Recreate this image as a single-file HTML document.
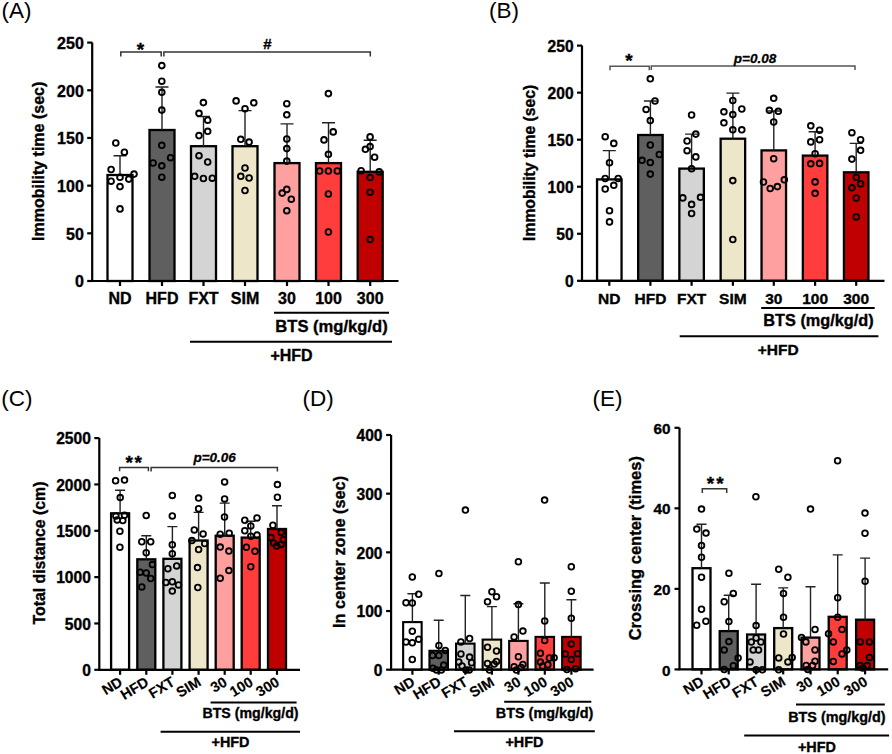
<!DOCTYPE html>
<html><head><meta charset="utf-8"><style>
html,body{margin:0;padding:0;background:#fff;width:892px;height:754px;overflow:hidden}
svg{display:block}
text{font-family:"Liberation Sans",sans-serif;fill:#000}
.b{font-weight:bold;stroke:#000;stroke-width:0.35px}
.bi{font-weight:bold;font-style:italic;stroke:#000;stroke-width:0.3px}
.r{font-weight:normal}
</style></head><body>
<svg width="892" height="754" viewBox="0 0 892 754">
<rect width="892" height="754" fill="#fff"/>
<rect x="107.5" y="175" width="25" height="106" fill="#ffffff" stroke="#000" stroke-width="2.3"/>
<rect x="149.5" y="130" width="25" height="151" fill="#5f5f5f" stroke="#000" stroke-width="2.3"/>
<rect x="191" y="146.2" width="25" height="134.8" fill="#d4d4d4" stroke="#000" stroke-width="2.3"/>
<rect x="232.5" y="146.2" width="25" height="134.8" fill="#ede6c9" stroke="#000" stroke-width="2.3"/>
<rect x="274.5" y="163.1" width="25" height="117.9" fill="#ffa0a0" stroke="#000" stroke-width="2.3"/>
<rect x="316" y="163.1" width="25" height="117.9" fill="#ff3d3d" stroke="#000" stroke-width="2.3"/>
<rect x="357.7" y="171.8" width="25" height="109.2" fill="#c00000" stroke="#000" stroke-width="2.3"/>
<path d="M120 175V155.7M113.5 155.7H126.5" stroke="#222" stroke-width="1.4" fill="none"/>
<path d="M162 130V87M155.5 87H168.5" stroke="#222" stroke-width="1.4" fill="none"/>
<path d="M203.5 146.2V116.5M197 116.5H210" stroke="#222" stroke-width="1.4" fill="none"/>
<path d="M245 146.2V110.6M238.5 110.6H251.5" stroke="#222" stroke-width="1.4" fill="none"/>
<path d="M287 163.1V123.9M280.5 123.9H293.5" stroke="#222" stroke-width="1.4" fill="none"/>
<path d="M328.5 163.1V122.8M322 122.8H335" stroke="#222" stroke-width="1.4" fill="none"/>
<path d="M370.2 171.8V140.3M363.7 140.3H376.7" stroke="#222" stroke-width="1.4" fill="none"/>
<circle cx="115.8" cy="143" r="2.85" fill="none" stroke="#000" stroke-width="1.9"/>
<circle cx="124.4" cy="152.2" r="2.85" fill="none" stroke="#000" stroke-width="1.9"/>
<circle cx="111.1" cy="169.5" r="2.85" fill="none" stroke="#000" stroke-width="1.9"/>
<circle cx="134" cy="174.1" r="2.85" fill="none" stroke="#000" stroke-width="1.9"/>
<circle cx="120" cy="177.3" r="2.85" fill="none" stroke="#000" stroke-width="1.9"/>
<circle cx="128.8" cy="179.1" r="2.85" fill="none" stroke="#000" stroke-width="1.9"/>
<circle cx="111.1" cy="181.2" r="2.85" fill="none" stroke="#000" stroke-width="1.9"/>
<circle cx="120" cy="186.6" r="2.85" fill="none" stroke="#000" stroke-width="1.9"/>
<circle cx="120" cy="208.9" r="2.85" fill="none" stroke="#000" stroke-width="1.9"/>
<circle cx="161.8" cy="65.6" r="2.85" fill="none" stroke="#000" stroke-width="1.9"/>
<circle cx="161.8" cy="81.2" r="2.85" fill="none" stroke="#000" stroke-width="1.9"/>
<circle cx="161.8" cy="92.3" r="2.85" fill="none" stroke="#000" stroke-width="1.9"/>
<circle cx="161.8" cy="110.1" r="2.85" fill="none" stroke="#000" stroke-width="1.9"/>
<circle cx="161.8" cy="145.3" r="2.85" fill="none" stroke="#000" stroke-width="1.9"/>
<circle cx="170.6" cy="157.7" r="2.85" fill="none" stroke="#000" stroke-width="1.9"/>
<circle cx="153.1" cy="163" r="2.85" fill="none" stroke="#000" stroke-width="1.9"/>
<circle cx="161.8" cy="165.8" r="2.85" fill="none" stroke="#000" stroke-width="1.9"/>
<circle cx="161.8" cy="177.2" r="2.85" fill="none" stroke="#000" stroke-width="1.9"/>
<circle cx="203.4" cy="102.6" r="2.85" fill="none" stroke="#000" stroke-width="1.9"/>
<circle cx="199" cy="113.3" r="2.85" fill="none" stroke="#000" stroke-width="1.9"/>
<circle cx="207.7" cy="120.2" r="2.85" fill="none" stroke="#000" stroke-width="1.9"/>
<circle cx="207.7" cy="131.3" r="2.85" fill="none" stroke="#000" stroke-width="1.9"/>
<circle cx="199" cy="135.6" r="2.85" fill="none" stroke="#000" stroke-width="1.9"/>
<circle cx="199" cy="155.7" r="2.85" fill="none" stroke="#000" stroke-width="1.9"/>
<circle cx="207.7" cy="162" r="2.85" fill="none" stroke="#000" stroke-width="1.9"/>
<circle cx="194.7" cy="176.3" r="2.85" fill="none" stroke="#000" stroke-width="1.9"/>
<circle cx="203.4" cy="178.5" r="2.85" fill="none" stroke="#000" stroke-width="1.9"/>
<circle cx="212.3" cy="178.2" r="2.85" fill="none" stroke="#000" stroke-width="1.9"/>
<circle cx="236.1" cy="100.9" r="2.85" fill="none" stroke="#000" stroke-width="1.9"/>
<circle cx="253.8" cy="102.8" r="2.85" fill="none" stroke="#000" stroke-width="1.9"/>
<circle cx="245" cy="108.7" r="2.85" fill="none" stroke="#000" stroke-width="1.9"/>
<circle cx="240.8" cy="139.3" r="2.85" fill="none" stroke="#000" stroke-width="1.9"/>
<circle cx="249.1" cy="142.1" r="2.85" fill="none" stroke="#000" stroke-width="1.9"/>
<circle cx="245" cy="168" r="2.85" fill="none" stroke="#000" stroke-width="1.9"/>
<circle cx="240.8" cy="176.3" r="2.85" fill="none" stroke="#000" stroke-width="1.9"/>
<circle cx="249.1" cy="178" r="2.85" fill="none" stroke="#000" stroke-width="1.9"/>
<circle cx="245" cy="190.5" r="2.85" fill="none" stroke="#000" stroke-width="1.9"/>
<circle cx="286.8" cy="103.7" r="2.85" fill="none" stroke="#000" stroke-width="1.9"/>
<circle cx="286.8" cy="114.8" r="2.85" fill="none" stroke="#000" stroke-width="1.9"/>
<circle cx="286.8" cy="139" r="2.85" fill="none" stroke="#000" stroke-width="1.9"/>
<circle cx="286.8" cy="148.6" r="2.85" fill="none" stroke="#000" stroke-width="1.9"/>
<circle cx="286.8" cy="161.1" r="2.85" fill="none" stroke="#000" stroke-width="1.9"/>
<circle cx="286.8" cy="189.4" r="2.85" fill="none" stroke="#000" stroke-width="1.9"/>
<circle cx="282.2" cy="193.1" r="2.85" fill="none" stroke="#000" stroke-width="1.9"/>
<circle cx="291.3" cy="199.2" r="2.85" fill="none" stroke="#000" stroke-width="1.9"/>
<circle cx="286.8" cy="210.7" r="2.85" fill="none" stroke="#000" stroke-width="1.9"/>
<circle cx="328.4" cy="93.6" r="2.85" fill="none" stroke="#000" stroke-width="1.9"/>
<circle cx="333.2" cy="131.9" r="2.85" fill="none" stroke="#000" stroke-width="1.9"/>
<circle cx="324" cy="139.9" r="2.85" fill="none" stroke="#000" stroke-width="1.9"/>
<circle cx="328.4" cy="154.3" r="2.85" fill="none" stroke="#000" stroke-width="1.9"/>
<circle cx="319.7" cy="171" r="2.85" fill="none" stroke="#000" stroke-width="1.9"/>
<circle cx="328.4" cy="171" r="2.85" fill="none" stroke="#000" stroke-width="1.9"/>
<circle cx="337.3" cy="171" r="2.85" fill="none" stroke="#000" stroke-width="1.9"/>
<circle cx="328.4" cy="194" r="2.85" fill="none" stroke="#000" stroke-width="1.9"/>
<circle cx="328.4" cy="232" r="2.85" fill="none" stroke="#000" stroke-width="1.9"/>
<circle cx="370.1" cy="136.9" r="2.85" fill="none" stroke="#000" stroke-width="1.9"/>
<circle cx="370.1" cy="146.6" r="2.85" fill="none" stroke="#000" stroke-width="1.9"/>
<circle cx="365.4" cy="149.3" r="2.85" fill="none" stroke="#000" stroke-width="1.9"/>
<circle cx="374.6" cy="157.2" r="2.85" fill="none" stroke="#000" stroke-width="1.9"/>
<circle cx="361.1" cy="170.7" r="2.85" fill="none" stroke="#000" stroke-width="1.9"/>
<circle cx="379.2" cy="171.9" r="2.85" fill="none" stroke="#000" stroke-width="1.9"/>
<circle cx="370.1" cy="177.5" r="2.85" fill="none" stroke="#000" stroke-width="1.9"/>
<circle cx="370.1" cy="192.2" r="2.85" fill="none" stroke="#000" stroke-width="1.9"/>
<circle cx="370.1" cy="239.5" r="2.85" fill="none" stroke="#000" stroke-width="1.9"/>
<path d="M92.2 42.6V281H398.5" stroke="#000" stroke-width="2.2" fill="none"/>
<path d="M87.2 42.6H92.2" stroke="#000" stroke-width="2.2"/>
<text x="83.8" y="49" class="b" font-size="16" text-anchor="end">250</text>
<path d="M87.2 90.28H92.2" stroke="#000" stroke-width="2.2"/>
<text x="83.8" y="96.68" class="b" font-size="16" text-anchor="end">200</text>
<path d="M87.2 137.96H92.2" stroke="#000" stroke-width="2.2"/>
<text x="83.8" y="144.36" class="b" font-size="16" text-anchor="end">150</text>
<path d="M87.2 185.64H92.2" stroke="#000" stroke-width="2.2"/>
<text x="83.8" y="192.04" class="b" font-size="16" text-anchor="end">100</text>
<path d="M87.2 233.32H92.2" stroke="#000" stroke-width="2.2"/>
<text x="83.8" y="239.72" class="b" font-size="16" text-anchor="end">50</text>
<path d="M87.2 281H92.2" stroke="#000" stroke-width="2.2"/>
<text x="83.8" y="287.4" class="b" font-size="16" text-anchor="end">0</text>
<path d="M120 281V286" stroke="#000" stroke-width="2.2"/>
<path d="M162 281V286" stroke="#000" stroke-width="2.2"/>
<path d="M203.5 281V286" stroke="#000" stroke-width="2.2"/>
<path d="M245 281V286" stroke="#000" stroke-width="2.2"/>
<path d="M287 281V286" stroke="#000" stroke-width="2.2"/>
<path d="M328.5 281V286" stroke="#000" stroke-width="2.2"/>
<path d="M370.2 281V286" stroke="#000" stroke-width="2.2"/>
<text x="120" y="303.6" class="b" font-size="16" text-anchor="middle">ND</text>
<text x="162" y="303.6" class="b" font-size="16" text-anchor="middle">HFD</text>
<text x="203.5" y="303.6" class="b" font-size="16" text-anchor="middle">FXT</text>
<text x="245" y="303.6" class="b" font-size="16" text-anchor="middle">SIM</text>
<text x="287" y="303.6" class="b" font-size="16" text-anchor="middle">30</text>
<text x="328.5" y="303.6" class="b" font-size="16" text-anchor="middle">100</text>
<text x="370.2" y="303.6" class="b" font-size="16" text-anchor="middle">300</text>
<path d="M274 312.8H389" stroke="#000" stroke-width="2"/>
<text x="331.5" y="331.6" class="b" font-size="16.6" text-anchor="middle">BTS (mg/kg/d)</text>
<path d="M190 341.8H392" stroke="#000" stroke-width="2"/>
<text x="291.5" y="360.6" class="b" font-size="16" text-anchor="middle">+HFD</text>
<text class="b" font-size="16" text-anchor="middle" transform="translate(43.6 161.3) rotate(-90)">Immobility time (sec)</text>
<text x="1.5" y="18.4" class="r" font-size="22.5">(A)</text>
<path d="M120.8 56.6V52H161.2V56.6" stroke="#333" stroke-width="1.5" fill="none"/>
<path d="M163.9 56.6V52.1H370.3V56.6" stroke="#333" stroke-width="1.5" fill="none"/>
<text x="140.5" y="56.2" class="b" font-size="19" text-anchor="middle">*</text>
<text x="267.3" y="49.1" class="b" font-size="15" text-anchor="middle">#</text>
<rect x="597.05" y="179.4" width="24.5" height="101.4" fill="#ffffff" stroke="#000" stroke-width="2.3"/>
<rect x="638.15" y="135" width="24.5" height="145.8" fill="#5f5f5f" stroke="#000" stroke-width="2.3"/>
<rect x="679.35" y="168.6" width="24.5" height="112.2" fill="#d4d4d4" stroke="#000" stroke-width="2.3"/>
<rect x="720.65" y="138.7" width="24.5" height="142.1" fill="#ede6c9" stroke="#000" stroke-width="2.3"/>
<rect x="761.55" y="150.4" width="24.5" height="130.4" fill="#ffa0a0" stroke="#000" stroke-width="2.3"/>
<rect x="802.85" y="155.6" width="24.5" height="125.2" fill="#ff3d3d" stroke="#000" stroke-width="2.3"/>
<rect x="843.95" y="172.3" width="24.5" height="108.5" fill="#c00000" stroke="#000" stroke-width="2.3"/>
<path d="M609.3 179.4V150.6M602.8 150.6H615.8" stroke="#222" stroke-width="1.4" fill="none"/>
<path d="M650.4 135V101M643.9 101H656.9" stroke="#222" stroke-width="1.4" fill="none"/>
<path d="M691.6 168.6V134.1M685.1 134.1H698.1" stroke="#222" stroke-width="1.4" fill="none"/>
<path d="M732.9 138.7V93.1M726.4 93.1H739.4" stroke="#222" stroke-width="1.4" fill="none"/>
<path d="M773.8 150.4V111M767.3 111H780.3" stroke="#222" stroke-width="1.4" fill="none"/>
<path d="M815.1 155.6V131.7M808.6 131.7H821.6" stroke="#222" stroke-width="1.4" fill="none"/>
<path d="M856.2 172.3V143.4M849.7 143.4H862.7" stroke="#222" stroke-width="1.4" fill="none"/>
<circle cx="605.2" cy="136.7" r="2.85" fill="none" stroke="#000" stroke-width="1.85"/>
<circle cx="613.8" cy="143.4" r="2.85" fill="none" stroke="#000" stroke-width="1.85"/>
<circle cx="609.5" cy="162.7" r="2.85" fill="none" stroke="#000" stroke-width="1.85"/>
<circle cx="605.2" cy="178.5" r="2.85" fill="none" stroke="#000" stroke-width="1.85"/>
<circle cx="618.2" cy="178.5" r="2.85" fill="none" stroke="#000" stroke-width="1.85"/>
<circle cx="613.8" cy="185.3" r="2.85" fill="none" stroke="#000" stroke-width="1.85"/>
<circle cx="605.2" cy="189" r="2.85" fill="none" stroke="#000" stroke-width="1.85"/>
<circle cx="609.5" cy="210.7" r="2.85" fill="none" stroke="#000" stroke-width="1.85"/>
<circle cx="609.5" cy="221.9" r="2.85" fill="none" stroke="#000" stroke-width="1.85"/>
<circle cx="650.3" cy="78.8" r="2.85" fill="none" stroke="#000" stroke-width="1.85"/>
<circle cx="655" cy="101" r="2.85" fill="none" stroke="#000" stroke-width="1.85"/>
<circle cx="646.1" cy="109.4" r="2.85" fill="none" stroke="#000" stroke-width="1.85"/>
<circle cx="650.3" cy="120.6" r="2.85" fill="none" stroke="#000" stroke-width="1.85"/>
<circle cx="650.3" cy="145" r="2.85" fill="none" stroke="#000" stroke-width="1.85"/>
<circle cx="659.3" cy="154.5" r="2.85" fill="none" stroke="#000" stroke-width="1.85"/>
<circle cx="642" cy="160.3" r="2.85" fill="none" stroke="#000" stroke-width="1.85"/>
<circle cx="650.3" cy="162.5" r="2.85" fill="none" stroke="#000" stroke-width="1.85"/>
<circle cx="650.3" cy="174.1" r="2.85" fill="none" stroke="#000" stroke-width="1.85"/>
<circle cx="691.6" cy="115" r="2.85" fill="none" stroke="#000" stroke-width="1.85"/>
<circle cx="695.8" cy="134.1" r="2.85" fill="none" stroke="#000" stroke-width="1.85"/>
<circle cx="687.1" cy="141" r="2.85" fill="none" stroke="#000" stroke-width="1.85"/>
<circle cx="687.1" cy="150.7" r="2.85" fill="none" stroke="#000" stroke-width="1.85"/>
<circle cx="695.8" cy="156.9" r="2.85" fill="none" stroke="#000" stroke-width="1.85"/>
<circle cx="691.6" cy="168.7" r="2.85" fill="none" stroke="#000" stroke-width="1.85"/>
<circle cx="682.8" cy="197.9" r="2.85" fill="none" stroke="#000" stroke-width="1.85"/>
<circle cx="700.5" cy="197.3" r="2.85" fill="none" stroke="#000" stroke-width="1.85"/>
<circle cx="691.6" cy="204.4" r="2.85" fill="none" stroke="#000" stroke-width="1.85"/>
<circle cx="691.6" cy="213.5" r="2.85" fill="none" stroke="#000" stroke-width="1.85"/>
<circle cx="732.8" cy="100.5" r="2.85" fill="none" stroke="#000" stroke-width="1.85"/>
<circle cx="741.8" cy="109" r="2.85" fill="none" stroke="#000" stroke-width="1.85"/>
<circle cx="723.9" cy="111.8" r="2.85" fill="none" stroke="#000" stroke-width="1.85"/>
<circle cx="732.8" cy="114.6" r="2.85" fill="none" stroke="#000" stroke-width="1.85"/>
<circle cx="723.9" cy="122.8" r="2.85" fill="none" stroke="#000" stroke-width="1.85"/>
<circle cx="732.8" cy="129.8" r="2.85" fill="none" stroke="#000" stroke-width="1.85"/>
<circle cx="741.8" cy="129.8" r="2.85" fill="none" stroke="#000" stroke-width="1.85"/>
<circle cx="732.8" cy="180.6" r="2.85" fill="none" stroke="#000" stroke-width="1.85"/>
<circle cx="732.8" cy="239.5" r="2.85" fill="none" stroke="#000" stroke-width="1.85"/>
<circle cx="773.7" cy="98.3" r="2.85" fill="none" stroke="#000" stroke-width="1.85"/>
<circle cx="769.4" cy="110.3" r="2.85" fill="none" stroke="#000" stroke-width="1.85"/>
<circle cx="778.3" cy="111.3" r="2.85" fill="none" stroke="#000" stroke-width="1.85"/>
<circle cx="773.7" cy="122" r="2.85" fill="none" stroke="#000" stroke-width="1.85"/>
<circle cx="773.7" cy="158.7" r="2.85" fill="none" stroke="#000" stroke-width="1.85"/>
<circle cx="784.3" cy="179.8" r="2.85" fill="none" stroke="#000" stroke-width="1.85"/>
<circle cx="763.5" cy="182" r="2.85" fill="none" stroke="#000" stroke-width="1.85"/>
<circle cx="777.4" cy="186.6" r="2.85" fill="none" stroke="#000" stroke-width="1.85"/>
<circle cx="770.2" cy="188.5" r="2.85" fill="none" stroke="#000" stroke-width="1.85"/>
<circle cx="810.8" cy="125.8" r="2.85" fill="none" stroke="#000" stroke-width="1.85"/>
<circle cx="819.6" cy="130.2" r="2.85" fill="none" stroke="#000" stroke-width="1.85"/>
<circle cx="810.8" cy="141.9" r="2.85" fill="none" stroke="#000" stroke-width="1.85"/>
<circle cx="819.6" cy="139.7" r="2.85" fill="none" stroke="#000" stroke-width="1.85"/>
<circle cx="815.1" cy="153.7" r="2.85" fill="none" stroke="#000" stroke-width="1.85"/>
<circle cx="810.8" cy="163.8" r="2.85" fill="none" stroke="#000" stroke-width="1.85"/>
<circle cx="819.6" cy="163.4" r="2.85" fill="none" stroke="#000" stroke-width="1.85"/>
<circle cx="815.1" cy="181.9" r="2.85" fill="none" stroke="#000" stroke-width="1.85"/>
<circle cx="815.1" cy="193.3" r="2.85" fill="none" stroke="#000" stroke-width="1.85"/>
<circle cx="851.9" cy="132.7" r="2.85" fill="none" stroke="#000" stroke-width="1.85"/>
<circle cx="860.6" cy="139.7" r="2.85" fill="none" stroke="#000" stroke-width="1.85"/>
<circle cx="860.6" cy="150.3" r="2.85" fill="none" stroke="#000" stroke-width="1.85"/>
<circle cx="851.9" cy="159.1" r="2.85" fill="none" stroke="#000" stroke-width="1.85"/>
<circle cx="856.3" cy="177.3" r="2.85" fill="none" stroke="#000" stroke-width="1.85"/>
<circle cx="860.6" cy="183.9" r="2.85" fill="none" stroke="#000" stroke-width="1.85"/>
<circle cx="851.9" cy="187.8" r="2.85" fill="none" stroke="#000" stroke-width="1.85"/>
<circle cx="856.3" cy="198" r="2.85" fill="none" stroke="#000" stroke-width="1.85"/>
<circle cx="856.3" cy="217" r="2.85" fill="none" stroke="#000" stroke-width="1.85"/>
<path d="M582 45.6V280.8H884.5" stroke="#000" stroke-width="2.2" fill="none"/>
<path d="M577 45.6H582" stroke="#000" stroke-width="2.2"/>
<text x="573.6" y="51.84" class="b" font-size="15.6" text-anchor="end">250</text>
<path d="M577 92.64H582" stroke="#000" stroke-width="2.2"/>
<text x="573.6" y="98.88" class="b" font-size="15.6" text-anchor="end">200</text>
<path d="M577 139.68H582" stroke="#000" stroke-width="2.2"/>
<text x="573.6" y="145.92" class="b" font-size="15.6" text-anchor="end">150</text>
<path d="M577 186.72H582" stroke="#000" stroke-width="2.2"/>
<text x="573.6" y="192.96" class="b" font-size="15.6" text-anchor="end">100</text>
<path d="M577 233.76H582" stroke="#000" stroke-width="2.2"/>
<text x="573.6" y="240" class="b" font-size="15.6" text-anchor="end">50</text>
<path d="M577 280.8H582" stroke="#000" stroke-width="2.2"/>
<text x="573.6" y="287.04" class="b" font-size="15.6" text-anchor="end">0</text>
<path d="M609.3 280.8V285.8" stroke="#000" stroke-width="2.2"/>
<path d="M650.4 280.8V285.8" stroke="#000" stroke-width="2.2"/>
<path d="M691.6 280.8V285.8" stroke="#000" stroke-width="2.2"/>
<path d="M732.9 280.8V285.8" stroke="#000" stroke-width="2.2"/>
<path d="M773.8 280.8V285.8" stroke="#000" stroke-width="2.2"/>
<path d="M815.1 280.8V285.8" stroke="#000" stroke-width="2.2"/>
<path d="M856.2 280.8V285.8" stroke="#000" stroke-width="2.2"/>
<text x="609.3" y="303.6" class="b" font-size="15.5" text-anchor="middle">ND</text>
<text x="650.4" y="303.6" class="b" font-size="15.5" text-anchor="middle">HFD</text>
<text x="691.6" y="303.6" class="b" font-size="15.5" text-anchor="middle">FXT</text>
<text x="732.9" y="303.6" class="b" font-size="15.5" text-anchor="middle">SIM</text>
<text x="773.8" y="303.6" class="b" font-size="15.5" text-anchor="middle">30</text>
<text x="815.1" y="303.6" class="b" font-size="15.5" text-anchor="middle">100</text>
<text x="856.2" y="303.6" class="b" font-size="15.5" text-anchor="middle">300</text>
<path d="M761.2 308.1H874.7" stroke="#000" stroke-width="2"/>
<text x="818.5" y="326" class="b" font-size="16.3" text-anchor="middle">BTS (mg/kg/d)</text>
<path d="M679.7 336.2H878.4" stroke="#000" stroke-width="2"/>
<text x="778.2" y="354.7" class="b" font-size="15.5" text-anchor="middle">+HFD</text>
<text class="b" font-size="15.7" text-anchor="middle" transform="translate(534.6 162.9) rotate(-90)">Immobility time (sec)</text>
<text x="489" y="18.4" class="r" font-size="22.5">(B)</text>
<path d="M610 70.3V66.2H649.3V70.3" stroke="#555" stroke-width="1.5" fill="none"/>
<path d="M651.3 70.1V66.1H855V70.1" stroke="#555" stroke-width="1.5" fill="none"/>
<text x="629" y="67" class="b" font-size="19" text-anchor="middle">*</text>
<text x="755" y="62.6" class="bi" font-size="13.5" text-anchor="middle">p=0.08</text>
<rect x="111.1" y="513.3" width="18" height="156.5" fill="#ffffff" stroke="#000" stroke-width="2.3"/>
<rect x="137.3" y="559.3" width="18" height="110.5" fill="#5f5f5f" stroke="#000" stroke-width="2.3"/>
<rect x="163.4" y="558.8" width="18" height="111" fill="#d4d4d4" stroke="#000" stroke-width="2.3"/>
<rect x="189.6" y="540.5" width="18" height="129.3" fill="#ede6c9" stroke="#000" stroke-width="2.3"/>
<rect x="215.7" y="535.7" width="18" height="134.1" fill="#ffa0a0" stroke="#000" stroke-width="2.3"/>
<rect x="241.7" y="537.6" width="18" height="132.2" fill="#ff3d3d" stroke="#000" stroke-width="2.3"/>
<rect x="268" y="529" width="18" height="140.8" fill="#c00000" stroke="#000" stroke-width="2.3"/>
<path d="M120.1 513.3V490.3M115.1 490.3H125.1" stroke="#222" stroke-width="1.4" fill="none"/>
<path d="M146.3 559.3V535.8M141.3 535.8H151.3" stroke="#222" stroke-width="1.4" fill="none"/>
<path d="M172.4 558.8V526.6M167.4 526.6H177.4" stroke="#222" stroke-width="1.4" fill="none"/>
<path d="M198.6 540.5V512.4M193.6 512.4H203.6" stroke="#222" stroke-width="1.4" fill="none"/>
<path d="M224.7 535.7V503.1M219.7 503.1H229.7" stroke="#222" stroke-width="1.4" fill="none"/>
<path d="M250.7 537.6V521.2M245.7 521.2H255.7" stroke="#222" stroke-width="1.4" fill="none"/>
<path d="M277 529V505.8M272 505.8H282" stroke="#222" stroke-width="1.4" fill="none"/>
<circle cx="115.6" cy="480.8" r="2.85" fill="none" stroke="#000" stroke-width="1.8"/>
<circle cx="124.5" cy="480.1" r="2.85" fill="none" stroke="#000" stroke-width="1.8"/>
<circle cx="120.2" cy="497.6" r="2.85" fill="none" stroke="#000" stroke-width="1.8"/>
<circle cx="115.9" cy="515.9" r="2.85" fill="none" stroke="#000" stroke-width="1.8"/>
<circle cx="124.5" cy="515.3" r="2.85" fill="none" stroke="#000" stroke-width="1.8"/>
<circle cx="117.2" cy="519.9" r="2.85" fill="none" stroke="#000" stroke-width="1.8"/>
<circle cx="122.8" cy="520.6" r="2.85" fill="none" stroke="#000" stroke-width="1.8"/>
<circle cx="119.9" cy="531.2" r="2.85" fill="none" stroke="#000" stroke-width="1.8"/>
<circle cx="119.9" cy="547.3" r="2.85" fill="none" stroke="#000" stroke-width="1.8"/>
<circle cx="146.2" cy="515.5" r="2.85" fill="none" stroke="#000" stroke-width="1.8"/>
<circle cx="141.8" cy="541.8" r="2.85" fill="none" stroke="#000" stroke-width="1.8"/>
<circle cx="150.7" cy="541.8" r="2.85" fill="none" stroke="#000" stroke-width="1.8"/>
<circle cx="146.2" cy="552.7" r="2.85" fill="none" stroke="#000" stroke-width="1.8"/>
<circle cx="152.4" cy="564.6" r="2.85" fill="none" stroke="#000" stroke-width="1.8"/>
<circle cx="140.2" cy="572.3" r="2.85" fill="none" stroke="#000" stroke-width="1.8"/>
<circle cx="146.2" cy="572.9" r="2.85" fill="none" stroke="#000" stroke-width="1.8"/>
<circle cx="150.7" cy="578.5" r="2.85" fill="none" stroke="#000" stroke-width="1.8"/>
<circle cx="141.8" cy="586.9" r="2.85" fill="none" stroke="#000" stroke-width="1.8"/>
<circle cx="172.3" cy="495.4" r="2.85" fill="none" stroke="#000" stroke-width="1.8"/>
<circle cx="172.3" cy="515.9" r="2.85" fill="none" stroke="#000" stroke-width="1.8"/>
<circle cx="172.3" cy="544.8" r="2.85" fill="none" stroke="#000" stroke-width="1.8"/>
<circle cx="172.3" cy="553.7" r="2.85" fill="none" stroke="#000" stroke-width="1.8"/>
<circle cx="176.7" cy="565.9" r="2.85" fill="none" stroke="#000" stroke-width="1.8"/>
<circle cx="167.9" cy="568.7" r="2.85" fill="none" stroke="#000" stroke-width="1.8"/>
<circle cx="165.9" cy="582.5" r="2.85" fill="none" stroke="#000" stroke-width="1.8"/>
<circle cx="172.3" cy="581.8" r="2.85" fill="none" stroke="#000" stroke-width="1.8"/>
<circle cx="178.5" cy="584.9" r="2.85" fill="none" stroke="#000" stroke-width="1.8"/>
<circle cx="172.3" cy="591.1" r="2.85" fill="none" stroke="#000" stroke-width="1.8"/>
<circle cx="198.6" cy="498.1" r="2.85" fill="none" stroke="#000" stroke-width="1.8"/>
<circle cx="198.6" cy="508.8" r="2.85" fill="none" stroke="#000" stroke-width="1.8"/>
<circle cx="194.3" cy="529.9" r="2.85" fill="none" stroke="#000" stroke-width="1.8"/>
<circle cx="203.1" cy="533.9" r="2.85" fill="none" stroke="#000" stroke-width="1.8"/>
<circle cx="191.9" cy="540.6" r="2.85" fill="none" stroke="#000" stroke-width="1.8"/>
<circle cx="204.7" cy="543.5" r="2.85" fill="none" stroke="#000" stroke-width="1.8"/>
<circle cx="198.6" cy="549.5" r="2.85" fill="none" stroke="#000" stroke-width="1.8"/>
<circle cx="197.5" cy="567.6" r="2.85" fill="none" stroke="#000" stroke-width="1.8"/>
<circle cx="197.8" cy="587.5" r="2.85" fill="none" stroke="#000" stroke-width="1.8"/>
<circle cx="224.6" cy="481.9" r="2.85" fill="none" stroke="#000" stroke-width="1.8"/>
<circle cx="224.6" cy="498.9" r="2.85" fill="none" stroke="#000" stroke-width="1.8"/>
<circle cx="224.5" cy="517" r="2.85" fill="none" stroke="#000" stroke-width="1.8"/>
<circle cx="220.2" cy="534.2" r="2.85" fill="none" stroke="#000" stroke-width="1.8"/>
<circle cx="229.2" cy="533.2" r="2.85" fill="none" stroke="#000" stroke-width="1.8"/>
<circle cx="220.2" cy="547.1" r="2.85" fill="none" stroke="#000" stroke-width="1.8"/>
<circle cx="228.9" cy="551.1" r="2.85" fill="none" stroke="#000" stroke-width="1.8"/>
<circle cx="228.9" cy="570.6" r="2.85" fill="none" stroke="#000" stroke-width="1.8"/>
<circle cx="220.2" cy="578.2" r="2.85" fill="none" stroke="#000" stroke-width="1.8"/>
<circle cx="244.8" cy="520.3" r="2.85" fill="none" stroke="#000" stroke-width="1.8"/>
<circle cx="257" cy="517.9" r="2.85" fill="none" stroke="#000" stroke-width="1.8"/>
<circle cx="250.8" cy="525.9" r="2.85" fill="none" stroke="#000" stroke-width="1.8"/>
<circle cx="244.8" cy="530.8" r="2.85" fill="none" stroke="#000" stroke-width="1.8"/>
<circle cx="250.8" cy="536.2" r="2.85" fill="none" stroke="#000" stroke-width="1.8"/>
<circle cx="257" cy="535.1" r="2.85" fill="none" stroke="#000" stroke-width="1.8"/>
<circle cx="246.4" cy="547.3" r="2.85" fill="none" stroke="#000" stroke-width="1.8"/>
<circle cx="255" cy="551.3" r="2.85" fill="none" stroke="#000" stroke-width="1.8"/>
<circle cx="250.8" cy="566.7" r="2.85" fill="none" stroke="#000" stroke-width="1.8"/>
<circle cx="277.4" cy="484.6" r="2.85" fill="none" stroke="#000" stroke-width="1.8"/>
<circle cx="277.4" cy="497.3" r="2.85" fill="none" stroke="#000" stroke-width="1.8"/>
<circle cx="272.9" cy="525.2" r="2.85" fill="none" stroke="#000" stroke-width="1.8"/>
<circle cx="281.2" cy="532.5" r="2.85" fill="none" stroke="#000" stroke-width="1.8"/>
<circle cx="271" cy="537.5" r="2.85" fill="none" stroke="#000" stroke-width="1.8"/>
<circle cx="283.3" cy="539.8" r="2.85" fill="none" stroke="#000" stroke-width="1.8"/>
<circle cx="273.6" cy="543.1" r="2.85" fill="none" stroke="#000" stroke-width="1.8"/>
<circle cx="280.9" cy="544.4" r="2.85" fill="none" stroke="#000" stroke-width="1.8"/>
<circle cx="276.7" cy="546" r="2.85" fill="none" stroke="#000" stroke-width="1.8"/>
<path d="M99.3 438.1V669.8H300" stroke="#000" stroke-width="2.2" fill="none"/>
<path d="M94.3 438.1H99.3" stroke="#000" stroke-width="2.2"/>
<text x="90.9" y="444.34" class="b" font-size="15.6" text-anchor="end">2500</text>
<path d="M94.3 484.44H99.3" stroke="#000" stroke-width="2.2"/>
<text x="90.9" y="490.68" class="b" font-size="15.6" text-anchor="end">2000</text>
<path d="M94.3 530.78H99.3" stroke="#000" stroke-width="2.2"/>
<text x="90.9" y="537.02" class="b" font-size="15.6" text-anchor="end">1500</text>
<path d="M94.3 577.12H99.3" stroke="#000" stroke-width="2.2"/>
<text x="90.9" y="583.36" class="b" font-size="15.6" text-anchor="end">1000</text>
<path d="M94.3 623.46H99.3" stroke="#000" stroke-width="2.2"/>
<text x="90.9" y="629.7" class="b" font-size="15.6" text-anchor="end">500</text>
<path d="M94.3 669.8H99.3" stroke="#000" stroke-width="2.2"/>
<text x="90.9" y="676.04" class="b" font-size="15.6" text-anchor="end">0</text>
<path d="M120.1 669.8V674.8" stroke="#000" stroke-width="2.2"/>
<path d="M146.3 669.8V674.8" stroke="#000" stroke-width="2.2"/>
<path d="M172.4 669.8V674.8" stroke="#000" stroke-width="2.2"/>
<path d="M198.6 669.8V674.8" stroke="#000" stroke-width="2.2"/>
<path d="M224.7 669.8V674.8" stroke="#000" stroke-width="2.2"/>
<path d="M250.7 669.8V674.8" stroke="#000" stroke-width="2.2"/>
<path d="M277 669.8V674.8" stroke="#000" stroke-width="2.2"/>
<text class="b" style="stroke-width:0.15px" font-size="14.5" text-anchor="end" transform="translate(123.6 684.8) rotate(-31)">ND</text>
<text class="b" style="stroke-width:0.15px" font-size="14.5" text-anchor="end" transform="translate(149.8 684.8) rotate(-31)">HFD</text>
<text class="b" style="stroke-width:0.15px" font-size="14.5" text-anchor="end" transform="translate(175.9 684.8) rotate(-31)">FXT</text>
<text class="b" style="stroke-width:0.15px" font-size="14.5" text-anchor="end" transform="translate(202.1 684.8) rotate(-31)">SIM</text>
<text class="b" style="stroke-width:0.15px" font-size="14.5" text-anchor="end" transform="translate(228.2 684.8) rotate(-31)">30</text>
<text class="b" style="stroke-width:0.15px" font-size="14.5" text-anchor="end" transform="translate(254.2 684.8) rotate(-31)">100</text>
<text class="b" style="stroke-width:0.15px" font-size="14.5" text-anchor="end" transform="translate(280.5 684.8) rotate(-31)">300</text>
<path d="M210.6 702.4H296.6" stroke="#000" stroke-width="2"/>
<text x="250.5" y="718" class="b" font-size="14.2" text-anchor="middle">BTS (mg/kg/d)</text>
<path d="M160.6 731.7H300" stroke="#000" stroke-width="2"/>
<text x="230.5" y="747.3" class="b" font-size="14.4" text-anchor="middle">+HFD</text>
<text class="b" font-size="15.8" text-anchor="middle" transform="translate(44.6 553) rotate(-90)">Total distance (cm)</text>
<text x="1.3" y="405.9" class="r" font-size="22.5">(C)</text>
<path d="M119.6 471.2V467.5H148.4V471.2" stroke="#333" stroke-width="1.5" fill="none"/>
<path d="M151.1 471.5V467.4H277.4V471.5" stroke="#333" stroke-width="1.5" fill="none"/>
<text x="129.1" y="469.1" class="b" font-size="19" text-anchor="middle">*</text>
<text x="138.1" y="469.1" class="b" font-size="19" text-anchor="middle">*</text>
<text x="214.6" y="462.3" class="bi" font-size="13.5" text-anchor="middle">p=0.06</text>
<rect x="403.15" y="622.1" width="18.5" height="47.6" fill="#ffffff" stroke="#000" stroke-width="2.1"/>
<rect x="429.45" y="650.8" width="18.5" height="18.9" fill="#5f5f5f" stroke="#000" stroke-width="2.1"/>
<rect x="456.05" y="643.6" width="18.5" height="26.1" fill="#d4d4d4" stroke="#000" stroke-width="2.1"/>
<rect x="482.65" y="639.6" width="18.5" height="30.1" fill="#ede6c9" stroke="#000" stroke-width="2.1"/>
<rect x="509.15" y="640.9" width="18.5" height="28.8" fill="#ffa0a0" stroke="#000" stroke-width="2.1"/>
<rect x="535.55" y="636.9" width="18.5" height="32.8" fill="#ff3d3d" stroke="#000" stroke-width="2.1"/>
<rect x="562.15" y="636.9" width="18.5" height="32.8" fill="#c00000" stroke="#000" stroke-width="2.1"/>
<path d="M412.4 622.1V593.8M407.4 593.8H417.4" stroke="#222" stroke-width="1.4" fill="none"/>
<path d="M438.7 650.8V620.2M433.7 620.2H443.7" stroke="#222" stroke-width="1.4" fill="none"/>
<path d="M465.3 643.6V595.5M460.3 595.5H470.3" stroke="#222" stroke-width="1.4" fill="none"/>
<path d="M491.9 639.6V606.6M486.9 606.6H496.9" stroke="#222" stroke-width="1.4" fill="none"/>
<path d="M518.4 640.9V603.7M513.4 603.7H523.4" stroke="#222" stroke-width="1.4" fill="none"/>
<path d="M544.8 636.9V583M539.8 583H549.8" stroke="#222" stroke-width="1.4" fill="none"/>
<path d="M571.4 636.9V599.8M566.4 599.8H576.4" stroke="#222" stroke-width="1.4" fill="none"/>
<circle cx="412.3" cy="577" r="2.85" fill="none" stroke="#000" stroke-width="1.8"/>
<circle cx="418.7" cy="594.2" r="2.85" fill="none" stroke="#000" stroke-width="1.8"/>
<circle cx="406" cy="602.7" r="2.85" fill="none" stroke="#000" stroke-width="1.8"/>
<circle cx="412.3" cy="603" r="2.85" fill="none" stroke="#000" stroke-width="1.8"/>
<circle cx="412.3" cy="631.3" r="2.85" fill="none" stroke="#000" stroke-width="1.8"/>
<circle cx="418.7" cy="639.3" r="2.85" fill="none" stroke="#000" stroke-width="1.8"/>
<circle cx="406" cy="642" r="2.85" fill="none" stroke="#000" stroke-width="1.8"/>
<circle cx="412.3" cy="642.8" r="2.85" fill="none" stroke="#000" stroke-width="1.8"/>
<circle cx="412.3" cy="659.5" r="2.85" fill="none" stroke="#000" stroke-width="1.8"/>
<circle cx="438.9" cy="573.5" r="2.85" fill="none" stroke="#000" stroke-width="1.8"/>
<circle cx="438.9" cy="645.5" r="2.85" fill="none" stroke="#000" stroke-width="1.8"/>
<circle cx="445.3" cy="650.4" r="2.85" fill="none" stroke="#000" stroke-width="1.8"/>
<circle cx="432.5" cy="655.5" r="2.85" fill="none" stroke="#000" stroke-width="1.8"/>
<circle cx="438.9" cy="655.5" r="2.85" fill="none" stroke="#000" stroke-width="1.8"/>
<circle cx="443.7" cy="665.1" r="2.85" fill="none" stroke="#000" stroke-width="1.8"/>
<circle cx="433" cy="668.3" r="2.85" fill="none" stroke="#000" stroke-width="1.8"/>
<circle cx="436.5" cy="669.9" r="2.85" fill="none" stroke="#000" stroke-width="1.8"/>
<circle cx="441.3" cy="669.9" r="2.85" fill="none" stroke="#000" stroke-width="1.8"/>
<circle cx="465.4" cy="510.1" r="2.85" fill="none" stroke="#000" stroke-width="1.8"/>
<circle cx="469.6" cy="638.5" r="2.85" fill="none" stroke="#000" stroke-width="1.8"/>
<circle cx="460.9" cy="642" r="2.85" fill="none" stroke="#000" stroke-width="1.8"/>
<circle cx="460.9" cy="654" r="2.85" fill="none" stroke="#000" stroke-width="1.8"/>
<circle cx="469.6" cy="657.1" r="2.85" fill="none" stroke="#000" stroke-width="1.8"/>
<circle cx="458.8" cy="661.9" r="2.85" fill="none" stroke="#000" stroke-width="1.8"/>
<circle cx="471.6" cy="662.7" r="2.85" fill="none" stroke="#000" stroke-width="1.8"/>
<circle cx="462" cy="665.9" r="2.85" fill="none" stroke="#000" stroke-width="1.8"/>
<circle cx="466" cy="669.9" r="2.85" fill="none" stroke="#000" stroke-width="1.8"/>
<circle cx="469.2" cy="669.9" r="2.85" fill="none" stroke="#000" stroke-width="1.8"/>
<circle cx="491.9" cy="591.8" r="2.85" fill="none" stroke="#000" stroke-width="1.8"/>
<circle cx="496.5" cy="596.8" r="2.85" fill="none" stroke="#000" stroke-width="1.8"/>
<circle cx="487.5" cy="601.8" r="2.85" fill="none" stroke="#000" stroke-width="1.8"/>
<circle cx="487.5" cy="647.3" r="2.85" fill="none" stroke="#000" stroke-width="1.8"/>
<circle cx="496.5" cy="651" r="2.85" fill="none" stroke="#000" stroke-width="1.8"/>
<circle cx="496.5" cy="661.4" r="2.85" fill="none" stroke="#000" stroke-width="1.8"/>
<circle cx="487.5" cy="663.4" r="2.85" fill="none" stroke="#000" stroke-width="1.8"/>
<circle cx="494.2" cy="664.1" r="2.85" fill="none" stroke="#000" stroke-width="1.8"/>
<circle cx="489.5" cy="670.1" r="2.85" fill="none" stroke="#000" stroke-width="1.8"/>
<circle cx="518.4" cy="561.7" r="2.85" fill="none" stroke="#000" stroke-width="1.8"/>
<circle cx="518.4" cy="604.6" r="2.85" fill="none" stroke="#000" stroke-width="1.8"/>
<circle cx="522.9" cy="631.1" r="2.85" fill="none" stroke="#000" stroke-width="1.8"/>
<circle cx="514.1" cy="636.9" r="2.85" fill="none" stroke="#000" stroke-width="1.8"/>
<circle cx="518.4" cy="656.7" r="2.85" fill="none" stroke="#000" stroke-width="1.8"/>
<circle cx="522.9" cy="664.5" r="2.85" fill="none" stroke="#000" stroke-width="1.8"/>
<circle cx="514.1" cy="666.8" r="2.85" fill="none" stroke="#000" stroke-width="1.8"/>
<circle cx="521.1" cy="667.4" r="2.85" fill="none" stroke="#000" stroke-width="1.8"/>
<circle cx="516.4" cy="670.1" r="2.85" fill="none" stroke="#000" stroke-width="1.8"/>
<circle cx="544.6" cy="500.1" r="2.85" fill="none" stroke="#000" stroke-width="1.8"/>
<circle cx="544.7" cy="621" r="2.85" fill="none" stroke="#000" stroke-width="1.8"/>
<circle cx="544.7" cy="640.5" r="2.85" fill="none" stroke="#000" stroke-width="1.8"/>
<circle cx="540.4" cy="653.3" r="2.85" fill="none" stroke="#000" stroke-width="1.8"/>
<circle cx="549.4" cy="658" r="2.85" fill="none" stroke="#000" stroke-width="1.8"/>
<circle cx="554.1" cy="657.8" r="2.85" fill="none" stroke="#000" stroke-width="1.8"/>
<circle cx="540.4" cy="662.1" r="2.85" fill="none" stroke="#000" stroke-width="1.8"/>
<circle cx="547.8" cy="664.8" r="2.85" fill="none" stroke="#000" stroke-width="1.8"/>
<circle cx="542.6" cy="666.1" r="2.85" fill="none" stroke="#000" stroke-width="1.8"/>
<circle cx="571.3" cy="566.7" r="2.85" fill="none" stroke="#000" stroke-width="1.8"/>
<circle cx="571.3" cy="591.3" r="2.85" fill="none" stroke="#000" stroke-width="1.8"/>
<circle cx="571.3" cy="618.3" r="2.85" fill="none" stroke="#000" stroke-width="1.8"/>
<circle cx="571.3" cy="643.9" r="2.85" fill="none" stroke="#000" stroke-width="1.8"/>
<circle cx="565.3" cy="654" r="2.85" fill="none" stroke="#000" stroke-width="1.8"/>
<circle cx="577.4" cy="653.7" r="2.85" fill="none" stroke="#000" stroke-width="1.8"/>
<circle cx="571.3" cy="659.4" r="2.85" fill="none" stroke="#000" stroke-width="1.8"/>
<circle cx="566.9" cy="669.5" r="2.85" fill="none" stroke="#000" stroke-width="1.8"/>
<circle cx="575.6" cy="668.8" r="2.85" fill="none" stroke="#000" stroke-width="1.8"/>
<path d="M391.1 435V669.7H593.6" stroke="#000" stroke-width="2.2" fill="none"/>
<path d="M386.1 435H391.1" stroke="#000" stroke-width="2.2"/>
<text x="382.5" y="441.24" class="b" font-size="15.6" text-anchor="end">400</text>
<path d="M386.1 493.68H391.1" stroke="#000" stroke-width="2.2"/>
<text x="382.5" y="499.92" class="b" font-size="15.6" text-anchor="end">300</text>
<path d="M386.1 552.35H391.1" stroke="#000" stroke-width="2.2"/>
<text x="382.5" y="558.59" class="b" font-size="15.6" text-anchor="end">200</text>
<path d="M386.1 611.03H391.1" stroke="#000" stroke-width="2.2"/>
<text x="382.5" y="617.27" class="b" font-size="15.6" text-anchor="end">100</text>
<path d="M386.1 669.7H391.1" stroke="#000" stroke-width="2.2"/>
<text x="382.5" y="675.94" class="b" font-size="15.6" text-anchor="end">0</text>
<path d="M412.4 669.7V674.7" stroke="#000" stroke-width="2.2"/>
<path d="M438.7 669.7V674.7" stroke="#000" stroke-width="2.2"/>
<path d="M465.3 669.7V674.7" stroke="#000" stroke-width="2.2"/>
<path d="M491.9 669.7V674.7" stroke="#000" stroke-width="2.2"/>
<path d="M518.4 669.7V674.7" stroke="#000" stroke-width="2.2"/>
<path d="M544.8 669.7V674.7" stroke="#000" stroke-width="2.2"/>
<path d="M571.4 669.7V674.7" stroke="#000" stroke-width="2.2"/>
<text class="b" style="stroke-width:0.15px" font-size="14.5" text-anchor="end" transform="translate(415.9 684.7) rotate(-31)">ND</text>
<text class="b" style="stroke-width:0.15px" font-size="14.5" text-anchor="end" transform="translate(442.2 684.7) rotate(-31)">HFD</text>
<text class="b" style="stroke-width:0.15px" font-size="14.5" text-anchor="end" transform="translate(468.8 684.7) rotate(-31)">FXT</text>
<text class="b" style="stroke-width:0.15px" font-size="14.5" text-anchor="end" transform="translate(495.4 684.7) rotate(-31)">SIM</text>
<text class="b" style="stroke-width:0.15px" font-size="14.5" text-anchor="end" transform="translate(521.9 684.7) rotate(-31)">30</text>
<text class="b" style="stroke-width:0.15px" font-size="14.5" text-anchor="end" transform="translate(548.3 684.7) rotate(-31)">100</text>
<text class="b" style="stroke-width:0.15px" font-size="14.5" text-anchor="end" transform="translate(574.9 684.7) rotate(-31)">300</text>
<path d="M504.2 701.7H591.3" stroke="#000" stroke-width="2"/>
<text x="544.6" y="717.7" class="b" font-size="14.4" text-anchor="middle">BTS (mg/kg/d)</text>
<path d="M454 731.3H594.8" stroke="#000" stroke-width="2"/>
<text x="524.4" y="747.1" class="b" font-size="14.4" text-anchor="middle">+HFD</text>
<text class="b" font-size="16.3" text-anchor="middle" transform="translate(344.6 551.9) rotate(-90)">In center zone (sec)</text>
<text x="302.6" y="405.7" class="r" font-size="22.5">(D)</text>
<rect x="692.5" y="568.2" width="18" height="101.2" fill="#ffffff" stroke="#000" stroke-width="2.3"/>
<rect x="719.7" y="631.1" width="18" height="38.3" fill="#5f5f5f" stroke="#000" stroke-width="2.3"/>
<rect x="747.1" y="634.5" width="18" height="34.9" fill="#d4d4d4" stroke="#000" stroke-width="2.3"/>
<rect x="774.2" y="628.1" width="18" height="41.3" fill="#ede6c9" stroke="#000" stroke-width="2.3"/>
<rect x="801.5" y="637.6" width="18" height="31.8" fill="#ffa0a0" stroke="#000" stroke-width="2.3"/>
<rect x="828.7" y="616.8" width="18" height="52.6" fill="#ff3d3d" stroke="#000" stroke-width="2.3"/>
<rect x="856.1" y="619.7" width="18" height="49.7" fill="#c00000" stroke="#000" stroke-width="2.3"/>
<path d="M701.5 568.2V524.3M696.5 524.3H706.5" stroke="#222" stroke-width="1.4" fill="none"/>
<path d="M728.7 631.1V595.3M723.7 595.3H733.7" stroke="#222" stroke-width="1.4" fill="none"/>
<path d="M756.1 634.5V584.2M751.1 584.2H761.1" stroke="#222" stroke-width="1.4" fill="none"/>
<path d="M783.2 628.1V587.9M778.2 587.9H788.2" stroke="#222" stroke-width="1.4" fill="none"/>
<path d="M810.5 637.6V586.7M805.5 586.7H815.5" stroke="#222" stroke-width="1.4" fill="none"/>
<path d="M837.7 616.8V554.9M832.7 554.9H842.7" stroke="#222" stroke-width="1.4" fill="none"/>
<path d="M865.1 619.7V558.1M860.1 558.1H870.1" stroke="#222" stroke-width="1.4" fill="none"/>
<circle cx="701.5" cy="509.1" r="2.85" fill="none" stroke="#000" stroke-width="1.8"/>
<circle cx="696.8" cy="529.1" r="2.85" fill="none" stroke="#000" stroke-width="1.8"/>
<circle cx="706" cy="533.1" r="2.85" fill="none" stroke="#000" stroke-width="1.8"/>
<circle cx="701.5" cy="545.5" r="2.85" fill="none" stroke="#000" stroke-width="1.8"/>
<circle cx="701.5" cy="557.3" r="2.85" fill="none" stroke="#000" stroke-width="1.8"/>
<circle cx="701.5" cy="577.2" r="2.85" fill="none" stroke="#000" stroke-width="1.8"/>
<circle cx="701.5" cy="609.3" r="2.85" fill="none" stroke="#000" stroke-width="1.8"/>
<circle cx="705.9" cy="621.3" r="2.85" fill="none" stroke="#000" stroke-width="1.8"/>
<circle cx="696.7" cy="625.3" r="2.85" fill="none" stroke="#000" stroke-width="1.8"/>
<circle cx="728.9" cy="573.2" r="2.85" fill="none" stroke="#000" stroke-width="1.8"/>
<circle cx="733.3" cy="593.4" r="2.85" fill="none" stroke="#000" stroke-width="1.8"/>
<circle cx="724.2" cy="601.7" r="2.85" fill="none" stroke="#000" stroke-width="1.8"/>
<circle cx="728.9" cy="621.6" r="2.85" fill="none" stroke="#000" stroke-width="1.8"/>
<circle cx="728.9" cy="641.6" r="2.85" fill="none" stroke="#000" stroke-width="1.8"/>
<circle cx="724.2" cy="649.9" r="2.85" fill="none" stroke="#000" stroke-width="1.8"/>
<circle cx="738.1" cy="657.9" r="2.85" fill="none" stroke="#000" stroke-width="1.8"/>
<circle cx="733.3" cy="665.8" r="2.85" fill="none" stroke="#000" stroke-width="1.8"/>
<circle cx="724.2" cy="669.5" r="2.85" fill="none" stroke="#000" stroke-width="1.8"/>
<circle cx="755.9" cy="496.7" r="2.85" fill="none" stroke="#000" stroke-width="1.8"/>
<circle cx="756.1" cy="625.6" r="2.85" fill="none" stroke="#000" stroke-width="1.8"/>
<circle cx="756.1" cy="638" r="2.85" fill="none" stroke="#000" stroke-width="1.8"/>
<circle cx="751.3" cy="642" r="2.85" fill="none" stroke="#000" stroke-width="1.8"/>
<circle cx="760.9" cy="642" r="2.85" fill="none" stroke="#000" stroke-width="1.8"/>
<circle cx="753.2" cy="649.9" r="2.85" fill="none" stroke="#000" stroke-width="1.8"/>
<circle cx="758.5" cy="649.9" r="2.85" fill="none" stroke="#000" stroke-width="1.8"/>
<circle cx="750" cy="661.9" r="2.85" fill="none" stroke="#000" stroke-width="1.8"/>
<circle cx="756.1" cy="669.8" r="2.85" fill="none" stroke="#000" stroke-width="1.8"/>
<circle cx="762.4" cy="669.8" r="2.85" fill="none" stroke="#000" stroke-width="1.8"/>
<circle cx="778.7" cy="569.2" r="2.85" fill="none" stroke="#000" stroke-width="1.8"/>
<circle cx="787.9" cy="577.2" r="2.85" fill="none" stroke="#000" stroke-width="1.8"/>
<circle cx="783.5" cy="593.4" r="2.85" fill="none" stroke="#000" stroke-width="1.8"/>
<circle cx="783.5" cy="617.3" r="2.85" fill="none" stroke="#000" stroke-width="1.8"/>
<circle cx="783.5" cy="634" r="2.85" fill="none" stroke="#000" stroke-width="1.8"/>
<circle cx="778.7" cy="657.9" r="2.85" fill="none" stroke="#000" stroke-width="1.8"/>
<circle cx="792.2" cy="657.4" r="2.85" fill="none" stroke="#000" stroke-width="1.8"/>
<circle cx="787.9" cy="661.9" r="2.85" fill="none" stroke="#000" stroke-width="1.8"/>
<circle cx="778.7" cy="669.8" r="2.85" fill="none" stroke="#000" stroke-width="1.8"/>
<circle cx="810.5" cy="509.1" r="2.85" fill="none" stroke="#000" stroke-width="1.8"/>
<circle cx="815" cy="629.5" r="2.85" fill="none" stroke="#000" stroke-width="1.8"/>
<circle cx="801.5" cy="637.5" r="2.85" fill="none" stroke="#000" stroke-width="1.8"/>
<circle cx="805.9" cy="641.9" r="2.85" fill="none" stroke="#000" stroke-width="1.8"/>
<circle cx="815" cy="649.9" r="2.85" fill="none" stroke="#000" stroke-width="1.8"/>
<circle cx="815" cy="661.3" r="2.85" fill="none" stroke="#000" stroke-width="1.8"/>
<circle cx="806.2" cy="665.5" r="2.85" fill="none" stroke="#000" stroke-width="1.8"/>
<circle cx="812.6" cy="665.5" r="2.85" fill="none" stroke="#000" stroke-width="1.8"/>
<circle cx="807.8" cy="669.4" r="2.85" fill="none" stroke="#000" stroke-width="1.8"/>
<circle cx="837.6" cy="460.8" r="2.85" fill="none" stroke="#000" stroke-width="1.8"/>
<circle cx="837.7" cy="597.7" r="2.85" fill="none" stroke="#000" stroke-width="1.8"/>
<circle cx="837.7" cy="617.3" r="2.85" fill="none" stroke="#000" stroke-width="1.8"/>
<circle cx="842" cy="629.5" r="2.85" fill="none" stroke="#000" stroke-width="1.8"/>
<circle cx="828.5" cy="633.7" r="2.85" fill="none" stroke="#000" stroke-width="1.8"/>
<circle cx="833.3" cy="641.9" r="2.85" fill="none" stroke="#000" stroke-width="1.8"/>
<circle cx="846.8" cy="649.9" r="2.85" fill="none" stroke="#000" stroke-width="1.8"/>
<circle cx="842" cy="653.9" r="2.85" fill="none" stroke="#000" stroke-width="1.8"/>
<circle cx="833.3" cy="661.5" r="2.85" fill="none" stroke="#000" stroke-width="1.8"/>
<circle cx="865" cy="513.1" r="2.85" fill="none" stroke="#000" stroke-width="1.8"/>
<circle cx="865" cy="533.3" r="2.85" fill="none" stroke="#000" stroke-width="1.8"/>
<circle cx="865.1" cy="581.2" r="2.85" fill="none" stroke="#000" stroke-width="1.8"/>
<circle cx="860.3" cy="641.9" r="2.85" fill="none" stroke="#000" stroke-width="1.8"/>
<circle cx="869.4" cy="641.9" r="2.85" fill="none" stroke="#000" stroke-width="1.8"/>
<circle cx="869.4" cy="657.4" r="2.85" fill="none" stroke="#000" stroke-width="1.8"/>
<circle cx="860.3" cy="665.5" r="2.85" fill="none" stroke="#000" stroke-width="1.8"/>
<circle cx="867.2" cy="665.5" r="2.85" fill="none" stroke="#000" stroke-width="1.8"/>
<circle cx="862.7" cy="668" r="2.85" fill="none" stroke="#000" stroke-width="1.8"/>
<path d="M679.5 427.8V669.4H888.2" stroke="#000" stroke-width="2.2" fill="none"/>
<path d="M674.5 427.8H679.5" stroke="#000" stroke-width="2.2"/>
<text x="670.4" y="433.92" class="b" font-size="15.3" text-anchor="end">60</text>
<path d="M674.5 508.33H679.5" stroke="#000" stroke-width="2.2"/>
<text x="670.4" y="514.45" class="b" font-size="15.3" text-anchor="end">40</text>
<path d="M674.5 588.87H679.5" stroke="#000" stroke-width="2.2"/>
<text x="670.4" y="594.99" class="b" font-size="15.3" text-anchor="end">20</text>
<path d="M674.5 669.4H679.5" stroke="#000" stroke-width="2.2"/>
<text x="670.4" y="675.52" class="b" font-size="15.3" text-anchor="end">0</text>
<path d="M701.5 669.4V674.4" stroke="#000" stroke-width="2.2"/>
<path d="M728.7 669.4V674.4" stroke="#000" stroke-width="2.2"/>
<path d="M756.1 669.4V674.4" stroke="#000" stroke-width="2.2"/>
<path d="M783.2 669.4V674.4" stroke="#000" stroke-width="2.2"/>
<path d="M810.5 669.4V674.4" stroke="#000" stroke-width="2.2"/>
<path d="M837.7 669.4V674.4" stroke="#000" stroke-width="2.2"/>
<path d="M865.1 669.4V674.4" stroke="#000" stroke-width="2.2"/>
<text class="b" style="stroke-width:0.15px" font-size="14.5" text-anchor="end" transform="translate(705 684.4) rotate(-31)">ND</text>
<text class="b" style="stroke-width:0.15px" font-size="14.5" text-anchor="end" transform="translate(732.2 684.4) rotate(-31)">HFD</text>
<text class="b" style="stroke-width:0.15px" font-size="14.5" text-anchor="end" transform="translate(759.6 684.4) rotate(-31)">FXT</text>
<text class="b" style="stroke-width:0.15px" font-size="14.5" text-anchor="end" transform="translate(786.7 684.4) rotate(-31)">SIM</text>
<text class="b" style="stroke-width:0.15px" font-size="14.5" text-anchor="end" transform="translate(814 684.4) rotate(-31)">30</text>
<text class="b" style="stroke-width:0.15px" font-size="14.5" text-anchor="end" transform="translate(841.2 684.4) rotate(-31)">100</text>
<text class="b" style="stroke-width:0.15px" font-size="14.5" text-anchor="end" transform="translate(868.6 684.4) rotate(-31)">300</text>
<path d="M796 704.4H884.8" stroke="#000" stroke-width="2"/>
<text x="836.9" y="722.3" class="b" font-size="14.4" text-anchor="middle">BTS (mg/kg/d)</text>
<path d="M744.2 735.6H889.1" stroke="#000" stroke-width="2"/>
<text x="816.9" y="751.5" class="b" font-size="14.4" text-anchor="middle">+HFD</text>
<text class="b" font-size="16.5" text-anchor="middle" transform="translate(640.5 548.2) rotate(-90)">Crossing center (times)</text>
<text x="592.6" y="405.7" class="r" font-size="22.5">(E)</text>
<path d="M702.3 493.1V488.7H726.7V493.1" stroke="#333" stroke-width="1.5" fill="none"/>
<text x="710.5" y="490.3" class="b" font-size="19" text-anchor="middle">*</text>
<text x="719.9" y="490.3" class="b" font-size="19" text-anchor="middle">*</text>
</svg>
</body></html>
